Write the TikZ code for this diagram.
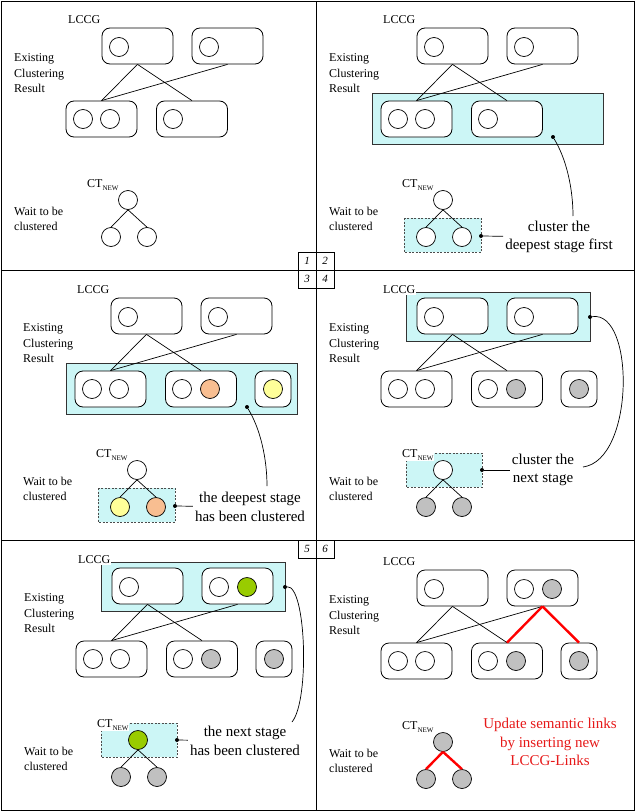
\documentclass[tikz,border=0pt]{standalone}
\usepackage{fontspec}
\setmainfont{Liberation Serif}
\definecolor{hlcyan}{RGB}{204,246,246}
\definecolor{orng}{RGB}{248,190,145}
\definecolor{ylw}{RGB}{255,255,153}
\definecolor{grn}{RGB}{153,204,0}
\definecolor{gry}{RGB}{192,192,192}
\definecolor{redtxt}{RGB}{230,25,25}
\tikzset{
  rbox/.style={draw,rounded corners=8pt,fill=white,minimum width=71pt,minimum height=36pt,inner sep=0pt,line width=0.8pt},
  sbox/.style={rbox,minimum width=36pt},
  cir/.style={draw,circle,minimum size=19pt,inner sep=0pt,fill=white,line width=0.7pt},
  hl/.style={draw=black!80,fill=hlcyan,line width=0.7pt},
  hld/.style={draw=black!70,fill=hlcyan,line width=0.7pt,dash pattern=on 2pt off 1.5pt},
  lbl/.style={font=\fontsize{12}{15.5}\selectfont,align=left,inner sep=1pt},
  call/.style={font=\fontsize{15}{18.5}\selectfont,align=center,inner sep=2pt},
  dot/.style={circle,fill=black,minimum size=4pt,inner sep=0pt},
  num/.style={draw,minimum size=18pt,inner sep=0pt,fill=white,font=\fontsize{11}{12}\selectfont\itshape},
  link/.style={line width=0.7pt},
  rlink/.style={draw=red,line width=2.4pt}
}
% common part of one step: LCCG boxes, their links and the labels
\newcommand{\lccgpanel}[1]{%
  \node[rbox] (#1A) at (137.5,46) {};
  \node[rbox] (#1B) at (227.5,46) {};
  \node[rbox] (#1C) at (101.5,119) {};
  \node[rbox] (#1D) at (192,119) {};
  \node[cir] (#1a) at (119,47) {};
  \node[cir] (#1b) at (209,47) {};
  \node[cir] (#1c) at (83,119) {};
  \node[cir] (#1cc) at (110,119) {};
  \node[cir] (#1d) at (173,119) {};
  \draw[link] (#1A.south) -- (#1C.north);
  \draw[link] (#1A.south) -- (#1D.north);
  \draw[link] (#1B.south) -- (#1C.north);
  \node[lbl,fill=white,anchor=base west] (#1lccg) at (67,23.5) {LCCG};
  \node[lbl,anchor=west] (#1exist) at (13,73.5) {Existing\\Clustering\\Result};
  \node[lbl,anchor=west] (#1wait) at (13,219) {Wait to be\\clustered};
  \node[lbl,fill=white,anchor=base west] (#1ct) at (86,187) {CT\raisebox{-0.6ex}{\fontsize{7}{8}\selectfont NEW}};
}
\begin{document}
\begin{tikzpicture}[x=1pt,y=-1pt]
  \useasboundingbox (0,0) rectangle (635,811);
  % step 1
  \begin{scope}
    \lccgpanel{p1}
    \node[cir] (p1r) at (128,200) {};
    \node[cir] (p1k1) at (111,237) {};
    \node[cir] (p1k2) at (147,237) {};
    \draw[link] (p1r.south) -- (p1k1.north);
    \draw[link] (p1r.south) -- (p1k2.north);
  \end{scope}
  % step 2
  \begin{scope}[shift={(315,0)}]
    \draw[hl] (57,93) rectangle (288,144);
    \draw[hld] (89,218) rectangle (166,252);
    \lccgpanel{p2}
    \node[cir] (p2r) at (128,200) {};
    \node[cir] (p2k1) at (111,237) {};
    \node[cir] (p2k2) at (147,237) {};
    \draw[link] (p2r.south) -- (p2k1.north);
    \draw[link] (p2r.south) -- (p2k2.north);
    \node[dot] (p2dot) at (238,137) {};
    \node[dot] (p2kdot) at (166,236) {};
    \node[call] (p2txt) at (244,237) {cluster the\\deepest stage first};
    \coordinate (p2end) at (258,216);
    \draw[link] (p2dot) .. controls (252,160) and (258,190) .. (p2end);
    \draw[link] (p2kdot) -- (p2txt);
  \end{scope}
  % step 3
  \begin{scope}[shift={(9,270)}]
    \draw[hl] (57,93) rectangle (288,144);
    \draw[hld] (89,218) rectangle (166,252);
    \lccgpanel{p3}
    \node[cir,fill=orng] (p3dd) at (201,119) {};
    \node[sbox] (p3E) at (264,119) {};
    \node[cir,fill=ylw] (p3e) at (264,119) {};
    \node[cir] (p3r) at (128,200) {};
    \node[cir,fill=ylw] (p3k1) at (111,237) {};
    \node[cir,fill=orng] (p3k2) at (147,237) {};
    \draw[link] (p3r.south) -- (p3k1.north);
    \draw[link] (p3r.south) -- (p3k2.north);
    \node[dot] (p3dot) at (238,137) {};
    \node[dot] (p3kdot) at (166,236) {};
    \node[call] (p3txt) at (241,237) {the deepest stage\\has been clustered};
    \coordinate (p3end) at (258,216);
    \draw[link] (p3dot) .. controls (252,160) and (258,190) .. (p3end);
    \draw[link] (p3kdot) -- (p3txt);
  \end{scope}
  % step 4
  \begin{scope}[shift={(315,270)}]
    \draw[hl] (91,22) rectangle (275,71);
    \draw[hld] (91,183) rectangle (167,217);
    \lccgpanel{p4}
    \node[cir,fill=gry] (p4dd) at (201,119) {};
    \node[sbox] (p4E) at (264,119) {};
    \node[cir,fill=gry] (p4e) at (264,119) {};
    \node[cir] (p4r) at (128,200) {};
    \node[cir,fill=gry] (p4k1) at (111,237) {};
    \node[cir,fill=gry] (p4k2) at (147,237) {};
    \draw[link] (p4r.south) -- (p4k1.north);
    \draw[link] (p4r.south) -- (p4k2.north);
    \node[dot] (p4dot) at (275,47) {};
    \node[dot] (p4kdot) at (167,200) {};
    \node[call] (p4txt) at (228,200) {cluster the\\next stage};
    \coordinate (p4end) at (268,197);
    \draw[link] (p4dot) .. controls (320,40) and (320,190) .. (p4end);
    \draw[link] (p4kdot) -- (p4txt);
  \end{scope}
  % step 5
  \begin{scope}[shift={(10,540)}]
    \draw[hl] (91,22) rectangle (275,71);
    \draw[hld] (91,183) rectangle (167,217);
    \lccgpanel{p5}
    \node[cir,fill=grn] (p5bb) at (237,47) {};
    \node[cir,fill=gry] (p5dd) at (201,119) {};
    \node[sbox] (p5E) at (264,119) {};
    \node[cir,fill=gry] (p5e) at (264,119) {};
    \node[cir,fill=grn] (p5r) at (128,200) {};
    \node[cir,fill=gry] (p5k1) at (111,237) {};
    \node[cir,fill=gry] (p5k2) at (147,237) {};
    \draw[link] (p5r.south) -- (p5k1.north);
    \draw[link] (p5r.south) -- (p5k2.north);
    \node[dot] (p5dot) at (275,47) {};
    \node[dot] (p5kdot) at (167,200) {};
    \node[call] (p5txt) at (235,201) {the next stage\\has been clustered};
    \coordinate (p5end) at (282,182);
    \draw[link] (p5dot) .. controls (296,45) and (300,160) .. (p5end);
    \draw[link] (p5kdot) -- (p5txt);
  \end{scope}
  % step 6
  \begin{scope}[shift={(315,542)}]
    \lccgpanel{p6}
    \node[cir,fill=gry] (p6bb) at (237,47) {};
    \node[cir,fill=gry] (p6dd) at (201,119) {};
    \node[sbox] (p6E) at (264,119) {};
    \node[cir,fill=gry] (p6e) at (264,119) {};
    \draw[rlink] (p6B.south) -- (p6D.north);
    \draw[rlink] (p6B.south) -- (p6E.north);
    \node[cir,fill=gry] (p6r) at (128,200) {};
    \node[cir,fill=gry] (p6k1) at (111,237) {};
    \node[cir,fill=gry] (p6k2) at (147,237) {};
    \draw[rlink] (p6r.south) -- (p6k1.north);
    \draw[rlink] (p6r.south) -- (p6k2.north);
    \node[call,text=redtxt] (p6txt) at (235,200) {Update semantic links\\by inserting new\\LCCG-Links};
  \end{scope}
  % frame and step numbers
  \draw[line width=1pt] (1,1) rectangle (634,810);
  \draw[line width=0.8pt] (316,1) -- (316,810);
  \draw[line width=0.8pt] (1,270) -- (634,270);
  \draw[line width=0.8pt] (1,540) -- (634,540);
  \node[num] (n1) at (307,261) {1};
  \node[num] (n2) at (325,261) {2};
  \node[num] (n3) at (307,279) {3};
  \node[num] (n4) at (325,279) {4};
  \node[num] (n5) at (307,549) {5};
  \node[num] (n6) at (325,549) {6};
\end{tikzpicture}
\end{document}
